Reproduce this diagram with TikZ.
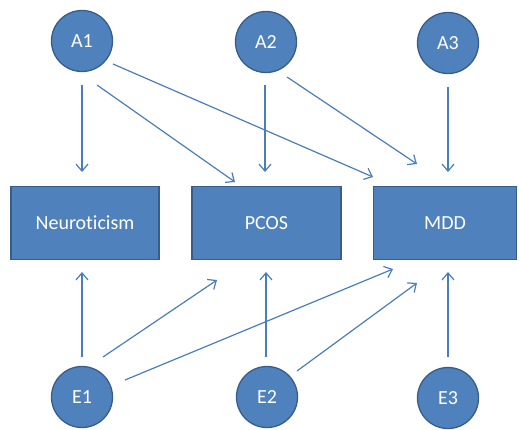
\documentclass[tikz,border=0pt]{standalone}
\usepackage{fontspec}
\setmainfont{Carlito}[Ligatures={NoCommon}]
\usetikzlibrary{arrows.meta,calc}
\definecolor{nodefill}{HTML}{4F81BD}
\definecolor{nodeline}{HTML}{385D8A}
\definecolor{arrowcol}{HTML}{4A7EBB}
\begin{document}
\begin{tikzpicture}[x=1pt,y=-1pt,
  latent/.style={circle,draw=nodeline,line width=1.3pt,fill=nodefill,minimum size=61pt,inner sep=0pt,text=white,font=\fontsize{20}{24}\selectfont},
  trait/.style={rectangle,draw=nodeline,line width=1.3pt,fill=nodefill,minimum height=73pt,inner sep=0pt,text=white,font=\fontsize{20}{24}\selectfont},
  arr/.style={draw=arrowcol,line width=1.2pt,-{Straight Barb[length=7pt,width=12pt,line width=1.2pt]}}]
\useasboundingbox (0,0) rectangle (519,429);
% latent nodes
\node[latent] (A1) at (82,41) {A1};
\node[latent] (A2) at (266,42) {A2};
\node[latent] (A3) at (448,43) {A3};
\node[latent] (E1) at (82,397) {E1};
\node[latent] (E2) at (267,397) {E2};
\node[latent] (E3) at (448,398) {E3};
% traits
\node[trait,minimum width=148pt] (N) at (85,223) {Neuroticism};
\node[trait,minimum width=149pt] (P) at (266.5,223) {PCOS};
\node[trait,minimum width=143pt] (M) at (445,223) {MDD};
% top arrows
\draw[arr] ($(A1)+(0,44)$) -- ($(N)+(-3,-51)$);
\draw[arr] ($(A1)+(15,44)$) -- ($(P)+(-31.5,-41)$);
\draw[arr] ($(A1)+(31,23)$) -- ($(M)+(-72,-46)$);
\draw[arr] ($(A2)+(-1,43)$) -- ($(P)+(-1.5,-51)$);
\draw[arr] ($(A2)+(21,35)$) -- ($(M)+(-28,-59)$);
\draw[arr] ($(A3)+(0,44)$) -- ($(M)+(3,-51)$);
% bottom arrows
\draw[arr] ($(E1)+(0,-40)$) -- ($(N)+(-3,49)$);
\draw[arr] ($(E1)+(21,-40)$) -- ($(P)+(-49.5,57)$);
\draw[arr] ($(E1)+(43,-17)$) -- ($(M)+(-52,46)$);
\draw[arr] ($(E2)+(-1,-40)$) -- ($(P)+(-0.5,49)$);
\draw[arr] ($(E2)+(30,-26)$) -- ($(M)+(-28,60)$);
\draw[arr] ($(E3)+(0,-41)$) -- ($(M)+(3,49)$);
\end{tikzpicture}
\end{document}
